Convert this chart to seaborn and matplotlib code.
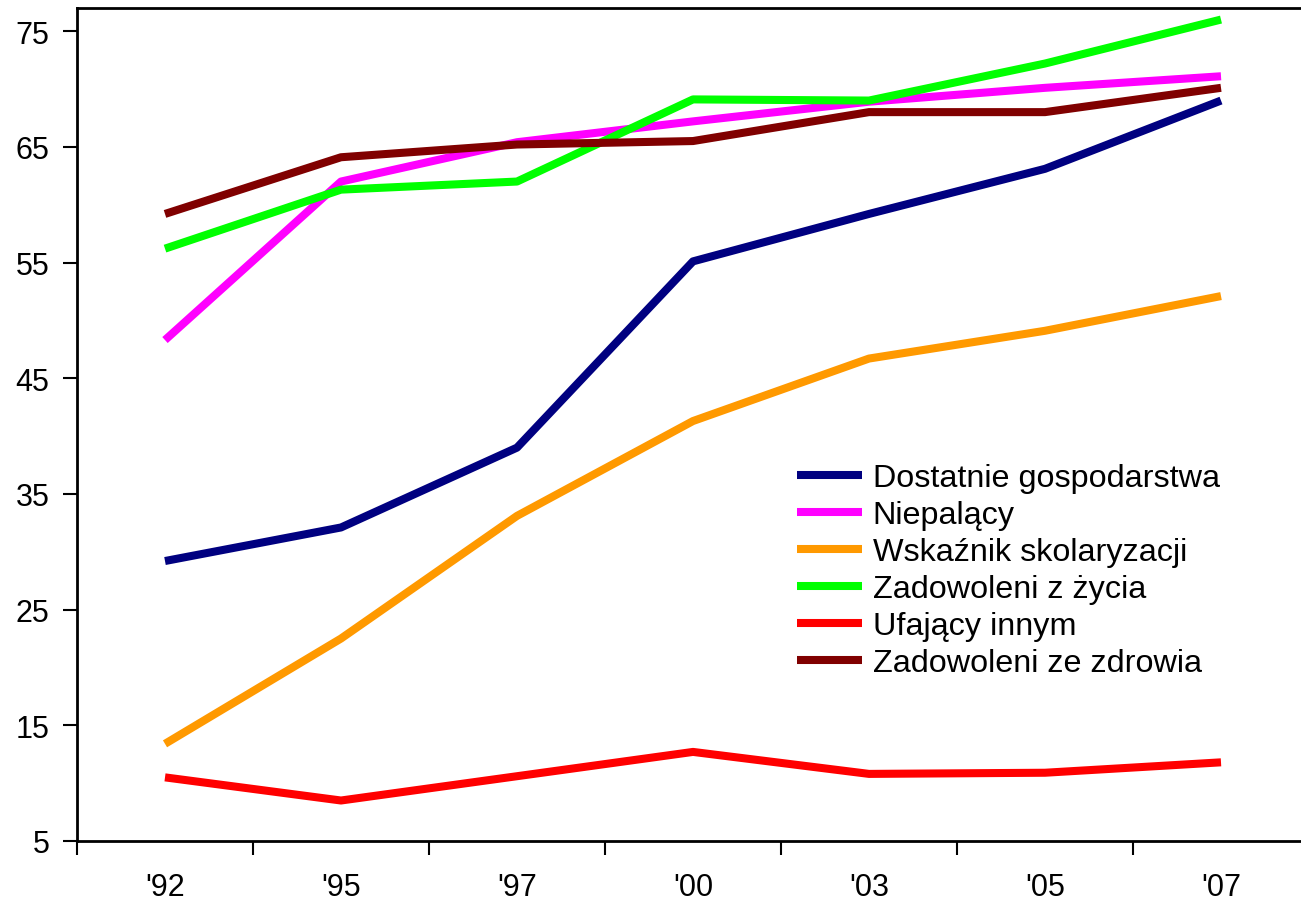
import numpy as np
import pandas as pd
import matplotlib
matplotlib.use("Agg")
import matplotlib.pyplot as plt
import seaborn as sns

# Survey years (Diagnoza Spoleczna)
years = ["'92", "'95", "'97", "'00", "'03", "'05", "'07"]

# Series values (percent)
dostatnie = [29.2, 32.1, 39.0, 55.1, 59.2, 63.1, 69.0]
niepalacy = [48.3, 62.0, 65.4, 67.2, 68.9, 70.1, 71.1]
skolaryzacja = [13.4, 22.5, 33.1, 41.3, 46.7, 49.1, 52.1]
zadowoleni_zycie = [56.2, 61.3, 62.0, 69.1, 69.0, 72.2, 76.0]
ufajacy = [10.5, 8.5, np.nan, 12.7, 10.8, 10.9, 11.8]   # no value for '97
zadowoleni_zdrowie = [59.2, 64.1, 65.2, 65.5, 68.0, 68.0, 70.1]

series_names = ["Dostatnie gospodarstwa", "Niepalący", "Wskaźnik skolaryzacji",
                "Zadowoleni z życia", "Ufający innym", "Zadowoleni ze zdrowia"]
series_values = [dostatnie, niepalacy, skolaryzacja, zadowoleni_zycie, ufajacy, zadowoleni_zdrowie]
colors = ["#000080", "#FF00FF", "#FF9900", "#00FF00", "#FF0000", "#800000"]

# long-form table for seaborn
rows = []
for name, vals in zip(series_names, series_values):
    for i, v in enumerate(vals):
        rows.append({"rok": i, "wartosc": v, "seria": name})
df = pd.DataFrame(rows).dropna()

sns.set_style("white")
plt.rcParams['font.family'] = ['Liberation Sans', 'DejaVu Sans']
plt.rcParams['lines.solid_capstyle'] = 'butt'
plt.rcParams['text.color'] = 'black'

fig = plt.figure(figsize=(13.01, 9.03), dpi=100)
ax = fig.add_axes([77 / 1301, 61 / 903, 1232 / 1301, 833 / 903])

sns.lineplot(data=df, x="rok", y="wartosc", hue="seria", hue_order=series_names,
             palette=colors, linewidth=5.8, errorbar=None, sort=True, ax=ax)

ax.set_xlim(-0.5, len(years) - 0.5)
ax.set_ylim(5, 77)
ax.set_yticks(np.arange(5, 76, 10))
ax.set_xticks(range(len(years)))
ax.set_xticklabels(years)
ax.set_xticks(np.arange(-0.5, len(years), 1), minor=True)
ax.set_xlabel("")
ax.set_ylabel("")

ax.tick_params(axis='x', which='major', length=0, pad=22, labelsize=22, colors='black')
ax.tick_params(axis='x', which='minor', length=10, width=1.5, direction='out', bottom=True, color='black')
ax.tick_params(axis='y', which='major', length=10, width=1.5, direction='out', left=True,
               pad=10, labelsize=22, colors='black')

for side in ['left', 'bottom', 'top']:
    ax.spines[side].set_color('black')
    ax.spines[side].set_linewidth(2)
ax.spines['right'].set_visible(False)

handles, labels = ax.get_legend_handles_labels()
leg = ax.legend(handles, labels, loc='upper left', bbox_to_anchor=(0.5844, 0.4536),
                frameon=False, fontsize=23.3, borderpad=0, borderaxespad=0,
                handlelength=2.0, handletextpad=0.34, labelspacing=0.215)
for line in leg.get_lines():
    line.set_linewidth(5.8)
for t in leg.get_texts():
    t.set_color('black')

fig.savefig("out.png", dpi=100)
